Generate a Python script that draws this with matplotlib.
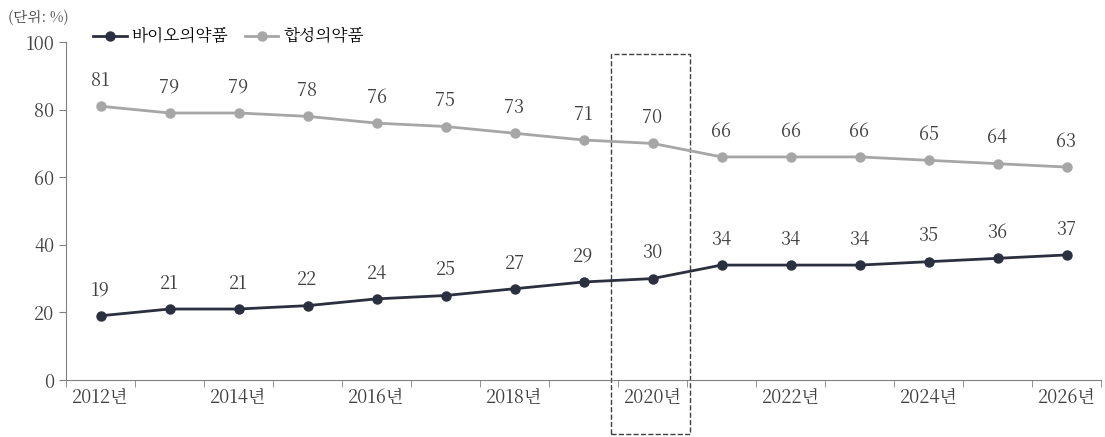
import matplotlib
matplotlib.use("Agg")
import matplotlib.pyplot as plt
from matplotlib.patches import Rectangle
from matplotlib import font_manager as fm

years = list(range(2012, 2027))
bio = [19, 21, 21, 22, 24, 25, 27, 29, 30, 34, 34, 34, 35, 36, 37]
syn = [81, 79, 79, 78, 76, 75, 73, 71, 70, 66, 66, 66, 65, 64, 63]
tick_labels = [f"{y}년" if y % 2 == 0 else "" for y in years]

fam = None
for f in fm.findSystemFonts():
    if "CJK" in f or "cjk" in f.lower():
        try:
            fm.fontManager.addfont(f)
            name = fm.FontProperties(fname=f).get_name()
            if fam is None or "KR" in name:
                fam = name
        except Exception:
            pass
plt.rcParams["font.family"] = [fam or "Noto Sans CJK KR", "DejaVu Sans"]

fig = plt.figure(figsize=(11.05, 4.37), dpi=100)
ax = fig.add_axes([66/1105, 1-380/437, (1101-66)/1105, (380-42)/437])
x = list(range(len(years)))
ax.plot(x, syn, color="#a6a6a6", marker="o", ms=6.5, lw=2, label="합성의약품")
ax.plot(x, bio, color="#2b3040", marker="o", ms=6.5, lw=2, label="바이오의약품")
for xi, v in zip(x, syn):
    ax.text(xi, v+4.5, str(v), ha="center", va="bottom", fontsize=13, color="#404040")
for xi, v in zip(x, bio):
    ax.text(xi, v+4.5, str(v), ha="center", va="bottom", fontsize=13, color="#404040")
ax.set_xlim(-0.5, len(years)-0.5)
ax.set_ylim(0, 100)
ax.set_yticks(range(0, 101, 20))
ax.set_xticks(x)
ax.set_xticklabels(tick_labels, fontsize=13, color="#404040")
ax.set_xticks([i-0.5 for i in range(len(years)+1)], minor=True)
ax.tick_params(axis="x", which="major", length=0, pad=6)
ax.tick_params(axis="x", which="minor", length=5, color="#808080")
ax.tick_params(axis="y", labelsize=13, labelcolor="#404040", length=5, color="#808080")
for s in ["top", "right"]:
    ax.spines[s].set_visible(False)
ax.spines["left"].set_color("#808080")
ax.spines["bottom"].set_color("#808080")
i20 = years.index(2020)
ax.add_patch(Rectangle((i20-0.6, -16), 1.15, 112.5, fill=False, ls="--", lw=1, ec="#404040", clip_on=False))
h, l = ax.get_legend_handles_labels()
ax.legend(h[::-1], l[::-1], loc="lower left", bbox_to_anchor=(0.02, 0.97), ncol=2, frameon=False,
          fontsize=12, handlelength=2, columnspacing=1, borderaxespad=0, handletextpad=0.3)
fig.text(8/1105, 1-18/437, "(단위: %)", fontsize=10.5, color="#404040", va="center")
fig.savefig("out.png")
